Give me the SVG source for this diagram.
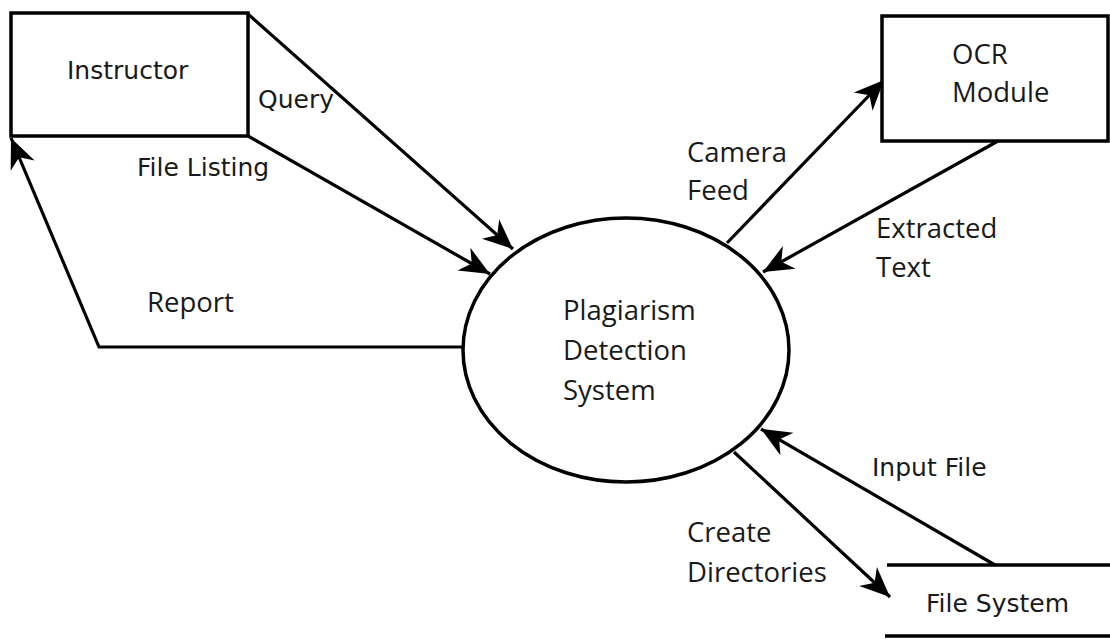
<svg xmlns="http://www.w3.org/2000/svg" width="1110" height="639" viewBox="0 0 1110 639">
  <style>
    .box { fill: #fff; stroke: #000; stroke-width: 3.5; }
    .flow { fill: none; stroke: #000; stroke-width: 3.2; }
    .store { fill: none; stroke: #000; stroke-width: 3.5; }
    .dv { font-family: "DejaVu Sans", sans-serif; font-size: 25px; fill: #1a1a1a; }
    .os { font-family: "Open Sans", "Noto Sans", sans-serif; font-size: 27.5px; fill: #1a1a1a; }
  </style>
  <defs>
    <marker id="arrow" markerUnits="userSpaceOnUse" viewBox="-32 -15 34 30" markerWidth="34" markerHeight="30" refX="0" refY="0" orient="auto">
      <path d="M0,0 L-30,-13 L-21,0 L-30,13 Z" fill="#000"/>
    </marker>
  </defs>
  <rect width="1110" height="639" fill="#fff"/>

  <g id="connectors">
    <!-- Instructor -> system -->
    <line class="flow" x1="248" y1="14" x2="513" y2="249" marker-end="url(#arrow)"/>
    <line class="flow" x1="248" y1="136" x2="490" y2="274" marker-end="url(#arrow)"/>
    <!-- system -> Instructor (report) -->
    <polyline class="flow" points="463,347 99,347 11,138" marker-end="url(#arrow)"/>
    <!-- system <-> OCR -->
    <line class="flow" x1="727" y1="243" x2="884" y2="80" marker-end="url(#arrow)"/>
    <line class="flow" x1="998" y1="141" x2="763" y2="272" marker-end="url(#arrow)"/>
    <!-- system <-> file system -->
    <line class="flow" x1="995" y1="565" x2="761" y2="429" marker-end="url(#arrow)"/>
    <line class="flow" x1="734" y1="452" x2="890" y2="597" marker-end="url(#arrow)"/>
    <text class="dv" x="258" y="108">Query</text>
    <text class="dv" x="137" y="176">File Listing</text>
    <text class="os" x="147" y="312">Report</text>
    <text class="os" x="687" y="162">Camera</text>
    <text class="os" x="687" y="200">Feed</text>
    <text class="os" x="876" y="238">Extracted</text>
    <text class="os" x="876" y="277">Text</text>
    <text class="dv" x="872" y="476">Input File</text>
    <text class="os" x="687" y="542">Create</text>
    <text class="os" x="687" y="582">Directories</text>
  </g>

  <g id="instructor">
    <rect class="box" x="11" y="13" width="237" height="123"/>
    <text class="dv" x="67" y="79">Instructor</text>
  </g>

  <g id="ocr-module">
    <rect class="box" x="882" y="16" width="226" height="125"/>
    <text class="os" x="952" y="64">OCR</text>
    <text class="os" x="952" y="102">Module</text>
  </g>

  <g id="plagiarism-detection-system">
    <ellipse class="box" cx="626" cy="350" rx="163" ry="132"/>
    <text class="os" x="563" y="320">Plagiarism</text>
    <text class="os" x="563" y="360">Detection</text>
    <text class="os" x="563" y="400">System</text>
  </g>

  <g id="file-system">
    <line class="store" x1="887" y1="565" x2="1110" y2="565"/>
    <line class="store" x1="885" y1="636" x2="1110" y2="636"/>
    <text class="dv" x="926" y="612">File System</text>
  </g>
</svg>
